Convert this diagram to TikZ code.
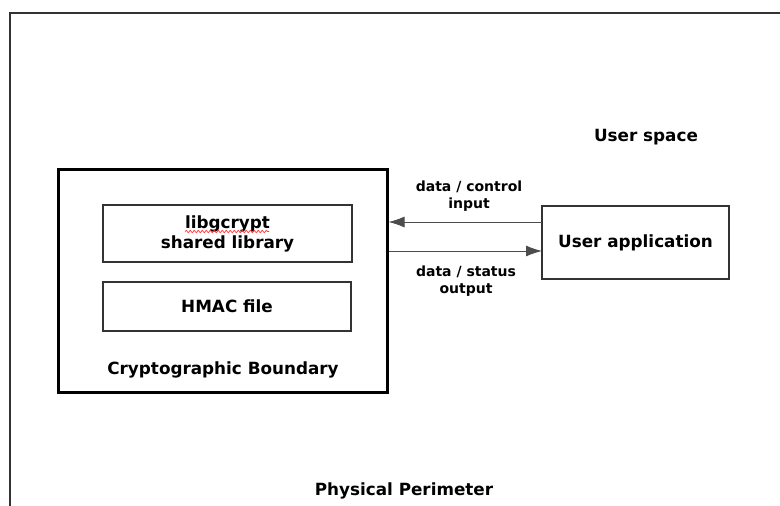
\documentclass[tikz,border=0pt]{standalone}
\usepackage{fontspec}
\setmainfont{DejaVu Sans}
\usetikzlibrary{arrows.meta,decorations.pathmorphing}
\begin{document}
\begin{tikzpicture}[x=1pt,y=-1pt,
  big/.style={font=\fontsize{16.8}{20}\selectfont\bfseries, inner sep=0pt},
  small/.style={font=\fontsize{14}{17}\selectfont\bfseries, inner sep=0pt, align=center},
  box/.style={draw=black!80, line width=1.1pt},
  flow/.style={draw=black!70, line width=0.9pt, -{Latex[length=16pt,width=11pt]}}]
\useasboundingbox (0,0) rectangle (780,506);
% physical perimeter frame
\draw[line width=2pt, black!80] (9.5,506) -- (9.5,12.5) -- (780,12.5);
% crypto boundary
\node[draw=black, line width=3pt, minimum width=329pt, minimum height=223pt, inner sep=0pt] (cb) at (222.5,280.5) {};
\node[box, minimum width=249pt, minimum height=57pt, inner sep=0pt] (lib) at (227.5,233.5) {};
\node[big, align=center] (libt) at (227.5,233.5) {libgcrypt\\shared library};
\draw[red!80, line width=0.7pt, decorate, decoration={snake, amplitude=1.2pt, segment length=4pt}] (185,231.5) -- (269,231.5);
\node[box, minimum width=248pt, minimum height=49pt, inner sep=0pt] (hmac) at (227,306.5) {};
\node[big] (hmact) at (227,306.5) {HMAC file};
\node[big] (cbt) at (223,370) {Cryptographic Boundary};
% user application
\node[box, minimum width=187pt, minimum height=73pt, inner sep=0pt] (app) at (635.5,242.5) {};
\node[big] (appt) at (635.5,242.5) {User application};
\coordinate (inS) at (542,222);
\coordinate (inE) at (388.5,222);
\coordinate (outS) at (388.5,251);
\coordinate (outE) at (542,251);
\draw[flow] (inS) -- (inE);
\draw[flow] (outS) -- (outE);
\node[small] (inl) at (469,196) {data / control\\input};
\node[small] (outl) at (466,281) {data / status\\output};
\node[big] (us) at (646,137) {User space};
\node[big] (pp) at (404,491) {Physical Perimeter};
\end{tikzpicture}
\end{document}
